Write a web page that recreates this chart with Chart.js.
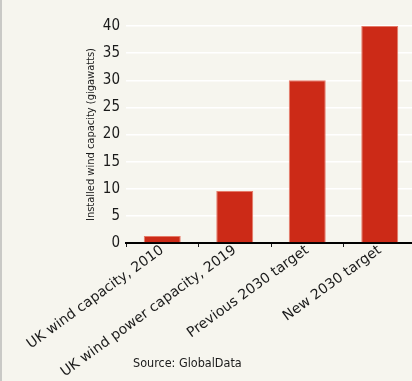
<!DOCTYPE html>
<html>
<head>
<meta charset="utf-8">
<script src="https://cdn.jsdelivr.net/npm/chart.js@4/dist/chart.umd.min.js"></script>
<style>
  html, body { margin: 0; padding: 0; background: #f6f5ee; overflow: hidden; }
  #wrap { position: relative; width: 416px; height: 381px; border-left: 2px solid #c9c9c6; box-sizing: border-box; }
</style>
</head>
<body>
<div id="wrap"><canvas id="c"></canvas></div>
<script>
// UK installed wind capacity, in gigawatts
const categories = [
  'UK wind capacity, 2010',
  'UK wind power capacity, 2019',
  'Previous 2030 target',
  'New 2030 target'
];
const capacityGW = [1.3, 9.6, 30, 40];
const yTicks = [0, 5, 10, 15, 20, 25, 30, 35, 40];
const yTitle = 'Installed wind capacity (gigawatts)';
const sourceNote = 'Source: GlobalData';

const sourcePlugin = {
  id: 'sourceNote',
  afterDraw(chart) {
    const ctx = chart.ctx;
    ctx.save();
    ctx.font = '12.5px "DejaVu Sans Condensed", "DejaVu Sans", sans-serif';
    ctx.fillStyle = '#1a1a1a';
    ctx.textBaseline = 'middle';
    ctx.textAlign = 'left';
    ctx.fillText(sourceNote, chart.chartArea.left + 7, 364);
    ctx.restore();
  }
};

new Chart(document.getElementById('c'), {
  type: 'bar',
  data: {
    labels: categories,
    datasets: [{
      data: capacityGW,
      backgroundColor: '#cc2a17',
      borderColor: '#e57a68',
      borderWidth: { top: 1, left: 1, right: 1, bottom: 0 },
      borderSkipped: false,
      barPercentage: 0.51,
      categoryPercentage: 1
    }]
  },
  options: {
    responsive: true,
    maintainAspectRatio: false,
    animation: false,
    layout: { padding: { left: 83, right: 0, top: 26, bottom: 0 } },
    plugins: { legend: { display: false }, tooltip: { enabled: false } },
    scales: {
      x: {
        grid: { display: true, drawOnChartArea: false, offset: true, color: '#1a1a1a', lineWidth: 1, tickLength: 4 },
        border: { display: true, color: '#000', width: 2 },
        ticks: {
          autoSkip: false, minRotation: 36, maxRotation: 36, padding: -5,
          color: '#1a1a1a',
          font: { family: '"DejaVu Sans", sans-serif', size: 14 }
        },
        afterFit(scale) { scale.height = 138; }
      },
      y: {
        min: 0, max: 40,
        afterBuildTicks(scale) { scale.ticks = yTicks.map(v => ({ value: v })); },
        grid: { color: '#ffffff', lineWidth: 1.5, drawTicks: false },
        border: { display: false },
        ticks: {
          padding: 6, color: '#1a1a1a',
          font: { family: '"DejaVu Sans Condensed", "DejaVu Sans", sans-serif', size: 15 }
        },
        title: {
          display: true, text: yTitle, color: '#1a1a1a', padding: 0,
          font: { family: '"DejaVu Sans Condensed", "DejaVu Sans", sans-serif', size: 11 }
        },
        afterFit(scale) { scale.width = 41; }
      }
    }
  },
  plugins: [sourcePlugin]
});
</script>
</body>
</html>
